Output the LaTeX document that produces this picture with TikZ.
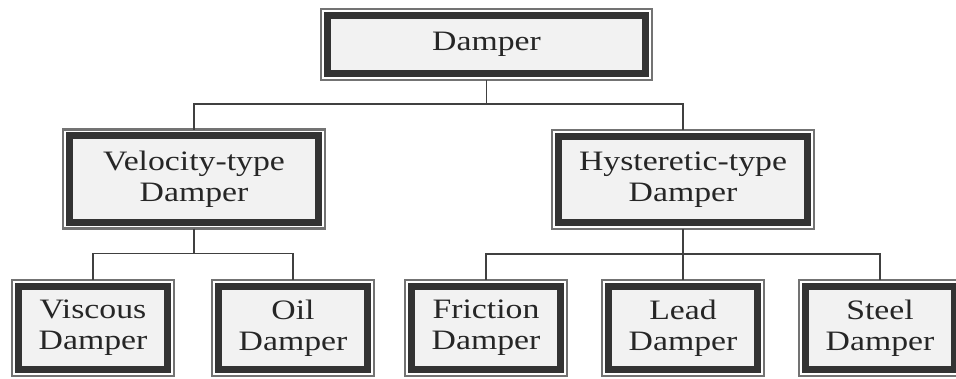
\documentclass[tikz,border=0pt]{standalone}
\usepackage{fontspec}
\setmainfont{Liberation Serif}[FakeStretch=1.2]
\usetikzlibrary{positioning}

\begin{document}
\begin{tikzpicture}[
        box/.style={rectangle, draw=black!55, line width=1.2pt, fill=white, outer sep=0pt, inner sep=0pt, align=center, font=\fontsize{16}{17.5}\selectfont, text=black!85,
            path picture={\draw[draw=black!80, fill=gray!10, line width=4pt] ([shift={(3.6pt,-3.6pt)}]path picture bounding box.north west) rectangle ([shift={(-3.6pt,3.6pt)}]path picture bounding box.south east);}},
        top_box/.style={box, minimum width=6.62cm, minimum height=1.42cm},
        mid_box/.style={box, minimum width=5.23cm, minimum height=1.98cm},
        leaf_box/.style={box, minimum width=3.24cm, minimum height=1.92cm},
        link/.style={draw=black!75, line width=1pt}
    ]
        \useasboundingbox (0,0) rectangle (19.12,-7.56);

        % Boxes
        \node[top_box] (damper) at (9.73,-0.89) {Damper};
        \node[mid_box] (velocity) at (3.88,-3.58) {Velocity-type \\ Damper};
        \node[mid_box] (hysteretic) at (13.66,-3.59) {Hysteretic-type \\ Damper};

        \node[leaf_box] (viscous) at (1.86,-6.56) {Viscous \\ Damper};
        \node[leaf_box] (oil) at (5.86,-6.56) {Oil \\ Damper};
        \node[leaf_box] (friction) at (9.72,-6.56) {Friction \\ Damper};
        \node[leaf_box] (lead) at (13.66,-6.56) {Lead \\ Damper};
        \node[leaf_box] (steel) at (17.6,-6.56) {Steel \\ Damper};

        % Links
        \draw[link] (damper.south) -- ++(0,-0.48) -| (velocity.north);
        \draw[link] (damper.south) -- ++(0,-0.48) -| (hysteretic.north);
        \draw[link] (velocity.south) -- ++(0,-0.5) -| (viscous.north);
        \draw[link] (velocity.south) -- ++(0,-0.5) -| (oil.north);
        \draw[link] (hysteretic.south) -- ++(0,-0.5) -| (friction.north);
        \draw[link] (hysteretic.south) -- (lead.north);
        \draw[link] (hysteretic.south) -- ++(0,-0.5) -| (steel.north);

\end{tikzpicture}
\end{document}
